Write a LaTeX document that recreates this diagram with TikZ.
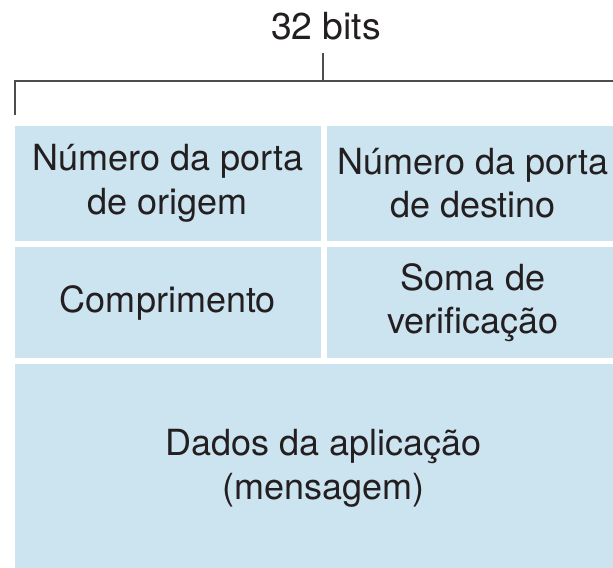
\documentclass[tikz,border=0pt]{standalone}
\usepackage{fontspec}
\setmainfont{TeX Gyre Heros}
\definecolor{campoazul}{RGB}{204,227,240}
\definecolor{textocor}{RGB}{35,31,32}
\definecolor{chavecor}{RGB}{77,77,77}
\tikzset{
  campo/.style={fill=campoazul, inner sep=0pt, align=center, text=textocor,
    font=\fontsize{27}{32.4}\selectfont},
  chave/.style={draw=chavecor, line width=1.3pt}
}
\begin{document}
\begin{tikzpicture}[x=0.75pt,y=0.75pt,yscale=-1,xscale=1]
\useasboundingbox (0,0) rectangle (613,567);

%Shape: Rectangle (porta de origem)
\node[campo, minimum width=229.7pt, minimum height=86.5pt] (origem) at (167.8,183.3) {Número da porta\\de origem};
%Shape: Rectangle (porta de destino)
\node[campo, minimum width=219.5pt, minimum height=86.5pt] (destino) at (473,183.3) {Número da porta\\de destino};
%Shape: Rectangle (comprimento)
\node[campo, minimum width=229.7pt, minimum height=82.8pt] (comp) at (167.8,302.5) {Comprimento};
%Shape: Rectangle (soma de verificacao)
\node[campo, minimum width=219.5pt, minimum height=82.8pt] (soma) at (473,302.5) {Soma de\\verificação};
%Shape: Rectangle (dados)
\node[campo, minimum width=463.2pt, minimum height=156pt] (dados) at (323.5,468.2) {Dados da aplicação\\(mensagem)};

% Text Node
\node[text=textocor, inner sep=0pt, font=\fontsize{28}{33.6}\selectfont] (bits) at (326,26) {32 bits};

%Straight Lines (chave)
\coordinate (chaveb) at (15.3,115);
\coordinate (chavec) at (15.3,81.3);
\coordinate (chaved) at (645,81.3);
\coordinate (traco) at (323,53.3);
\coordinate (tracob) at (323,81.3);
\draw[chave] (chaveb) -- (chavec) -- (chaved);
\draw[chave] (traco) -- (tracob);

\end{tikzpicture}
\end{document}
